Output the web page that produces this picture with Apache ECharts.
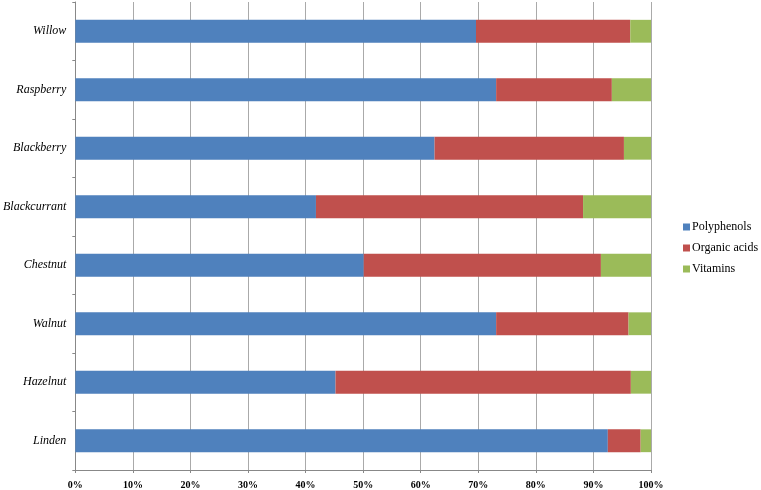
<!DOCTYPE html>
<html><head><meta charset="utf-8">
<script src="https://cdn.jsdelivr.net/npm/echarts@6/dist/echarts.min.js"></script>
<style>html,body{margin:0;padding:0;background:#fff}#c{width:761px;height:490px}</style>
</head><body><div id="c"></div>
<script>
const categories = ['Linden','Hazelnut','Walnut','Chestnut','Blackcurrant','Blackberry','Raspberry','Willow'];
const polyphenols = [92.5, 45.2, 73.1, 50.1, 41.8, 62.4, 73.1, 69.6];
const organicAcids = [5.7, 51.3, 23.0, 41.2, 46.4, 32.9, 20.1, 26.8];
const vitamins = [1.8, 3.5, 3.9, 8.7, 11.8, 4.7, 6.8, 3.6];
const xTicks = [0,10,20,30,40,50,60,70,80,90,100];

const chart = echarts.init(document.getElementById('c'));
const serif = '"Liberation Serif","DejaVu Serif",serif';
function ser(name, data, color){
  return {name, type:'bar', stack:'t', data, barWidth:'39%', itemStyle:{color}, emphasis:{disabled:true}};
}
chart.setOption({
  animation:false,
  grid:{left:74, right:110, top:2, bottom:20, containLabel:false},
  legend:{orient:'vertical', left:678, top:216, itemWidth:7, itemHeight:7, itemGap:9,
    icon:'rect', textStyle:{fontFamily:serif, fontSize:12, color:'#000', padding:[0,0,0,-3]}},
  xAxis:{type:'value', min:0, max:100, interval:10,
    axisLine:{show:true, lineStyle:{color:'#888'}},
    axisTick:{show:true, length:3, lineStyle:{color:'#888'}},
    splitLine:{show:true, lineStyle:{color:'#aaa', width:1}},
    axisLabel:{formatter:v=>xTicks.includes(v)?v+'%':'', fontFamily:serif, fontSize:10, fontWeight:'bold', color:'#000', margin:10}},
  yAxis:{type:'category', data:categories,
    axisLine:{show:true, lineStyle:{color:'#888'}},
    axisTick:{show:true, length:3, lineStyle:{color:'#888'}},
    axisLabel:{fontFamily:serif, fontStyle:'italic', fontSize:12, color:'#000', margin:9}},
  series:[ser('Polyphenols', polyphenols, '#4F81BD'), ser('Organic acids', organicAcids, '#C0504D'), ser('Vitamins', vitamins, '#9BBB59')]
});
</script></body></html>
